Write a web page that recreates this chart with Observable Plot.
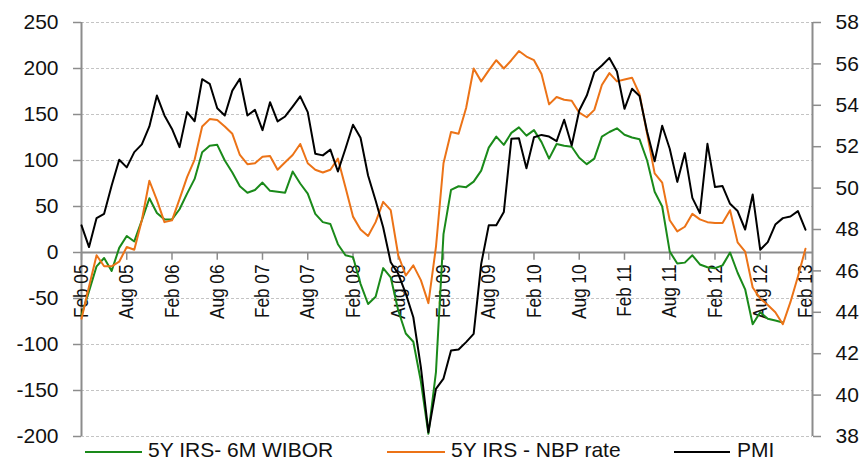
<!DOCTYPE html>
<html><head><meta charset="utf-8">
<script src="https://cdn.jsdelivr.net/npm/d3@7"></script>
<script src="https://cdn.jsdelivr.net/npm/@observablehq/plot@0.6"></script>
<style>
body{margin:0;background:#fff;font-family:"Liberation Sans",Arial,sans-serif;}
#legend{position:relative;height:20px;width:863px;font-size:21px;line-height:20px;color:#111;}
.sw{position:absolute;top:11px;height:0;border-top:2px solid;}
.lb{position:absolute;top:0;white-space:nowrap;}
</style></head><body>
<div id="chart"></div>
<div id="legend"></div>
<script>
// Monthly observations, Feb 2005 (index 0) to Feb 2013 (index 96)
const xTickLabels = ["Feb 05","Aug 05","Feb 06","Aug 06","Feb 07","Aug 07","Feb 08","Aug 08","Feb 09","Aug 09","Feb 10","Aug 10","Feb 11","Aug 11","Feb 12","Aug 12","Feb 13"];
const leftTicks = [-200,-150,-100,-50,0,50,100,150,200,250];
const rightTicks = [38,40,42,44,46,48,50,52,54,56,58];

const irsWibor = [-68,-42,-15,-6,-20,5,18,12,35,59,43,36,36,47,64,80,109,116,117,100,87,72,65,68,
  76,67,66,65,88,75,64,42,33,31,9,-3,-5,-34,-56,-48,-17,-27,-63,-88,-97,-140,-197,-130,
  20,68,72,71,77,89,114,126,117,130,136,127,133,120,102,118,116,115,103,96,102,126,131,135,
  128,125,123,100,66,50,1,-12,-11,-3,-13,-16,-17,-14,0,-22,-40,-78,-65,-72,-74,-76,null,null,null];
const irsNbp = [-72,-37,-3,-15,-15,-10,6,3,35,78,57,33,35,58,82,101,137,145,144,137,129,106,96,97,
  104,105,90,98,106,118,97,90,87,90,102,71,39,25,18,33,55,46,-3,-25,-14,-30,-55,6,
  97,131,129,157,200,186,198,209,200,209,219,213,209,194,161,169,166,165,152,147,155,182,195,186,
  188,190,172,129,86,76,35,23,28,42,36,33,32,32,46,11,1,-38,-50,-57,-65,-78,-54,-26,4];
const pmi = [48.2,47.15,48.55,48.76,50.13,51.37,51.0,51.74,52.11,52.98,54.47,53.51,52.86,51.98,53.67,53.23,55.26,55.04,53.86,53.51,54.71,55.28,53.51,53.78,
  52.8,54.15,53.22,53.46,53.94,54.43,53.67,51.66,51.58,51.86,50.8,51.9,53.06,52.43,50.61,49.4,48.11,46.42,45.86,44.9,43.76,41.35,38.21,40.3,
  40.8,42.15,42.2,42.56,42.96,46.34,48.2,48.2,48.84,52.38,52.41,50.96,52.46,52.57,52.49,52.27,53.3,52.06,53.75,54.47,55.6,55.92,56.29,55.63,
  53.83,54.8,54.45,52.72,51.3,53.01,51.9,50.3,51.69,49.53,48.79,52.14,50.05,50.1,49.24,48.89,48.0,49.69,47.02,47.39,48.24,48.55,48.63,48.89,47.99];

const seriesNames = ["5Y IRS- 6M WIBOR","5Y IRS - NBP rate","PMI"];
const seriesColors = ["#1a8a1a","#ec7317","#000000"];

// PMI (right axis 38..58) mapped onto left axis (-200..250)
const toLeft = v => (v - 38) * 22.5 - 200;
const fromLeft = v => Math.round((v + 200) / 22.5 + 38);

const rows = (arr, s) => arr.map((v, i) => ({i, v, s}));
const green = rows(irsWibor, 0);
const orange = rows(irsNbp, 1);
const black = rows(pmi, 2).map(d => ({...d, v: toLeft(d.v)}));
const xTickIdx = xTickLabels.map((_, k) => k * 6);
const xMax = 96.93;

const chart = Plot.plot({
  width: 863, height: 440,
  marginLeft: 81, marginRight: 51, marginTop: 22, marginBottom: 4,
  style: {fontFamily: '"Liberation Sans", Arial, sans-serif', fontSize: "21px", background: "#fff", overflow: "visible"},
  x: {type: "linear", domain: [0, xMax], axis: null},
  y: {domain: [-200, 250], axis: null},
  marks: [
    Plot.gridY(leftTicks, {stroke: "#c4c4c4", strokeOpacity: 1, strokeDasharray: "3,2", strokeWidth: 1}),
    Plot.axisY({anchor: "left", label: null, ticks: leftTicks, tickSize: 8, tickPadding: 15, tickFormat: d => String(d), stroke: "#8c8c8c", fill: "#111", fontSize: 21, strokeWidth: 1.5}),
    Plot.axisY({anchor: "right", label: null, ticks: rightTicks.map(toLeft), tickSize: 8, tickPadding: 15, tickFormat: d => String(fromLeft(d)), stroke: "#8c8c8c", fill: "#111", fontSize: 21, strokeWidth: 1.5}),
    Plot.ruleX([0, xMax], {stroke: "#8c8c8c", strokeWidth: 2}),
    Plot.ruleY([0], {stroke: "#8c8c8c", strokeWidth: 2}),
    Plot.ruleX(xTickIdx, {x: d => d, y1: 0, y2: -8.5, stroke: "#8c8c8c", strokeWidth: 1.5}),
    Plot.text(xTickIdx, {x: d => d, y: 0, text: (d, k) => xTickLabels[k], rotate: -90, textAnchor: "end", lineAnchor: "middle", dy: 12, fontSize: 21, fill: "#111"}),
    Plot.line(green, {x: "i", y: "v", stroke: seriesColors[0], strokeWidth: 2, curve: "linear"}),
    Plot.line(orange, {x: "i", y: "v", stroke: seriesColors[1], strokeWidth: 2, curve: "linear"}),
    Plot.line(black, {x: "i", y: "v", stroke: seriesColors[2], strokeWidth: 2, curve: "linear"})
  ]
});
document.getElementById("chart").appendChild(chart);

// condense the rotated month labels (narrow face, as in the reference)
chart.querySelectorAll("text").forEach(t => {
  const tr = t.getAttribute("transform") || "";
  if (tr.includes("rotate(-90")) {
    const w = t.getComputedTextLength();
    t.setAttribute("textLength", (w * 0.82).toFixed(1));
    t.setAttribute("lengthAdjust", "spacingAndGlyphs");
  }
});

// legend below the chart
const legendPos = [{sw: 85, w: 57, lb: 148}, {sw: 387, w: 58, lb: 451}, {sw: 674, w: 56, lb: 737}];
const lg = document.getElementById("legend");
seriesNames.forEach((name, k) => {
  const s = document.createElement("div");
  s.className = "sw"; s.style.left = legendPos[k].sw + "px"; s.style.width = legendPos[k].w + "px";
  s.style.borderTopColor = seriesColors[k];
  lg.appendChild(s);
  const t = document.createElement("div");
  t.className = "lb"; t.style.left = legendPos[k].lb + "px"; t.textContent = name;
  lg.appendChild(t);
});
</script>
</body></html>
